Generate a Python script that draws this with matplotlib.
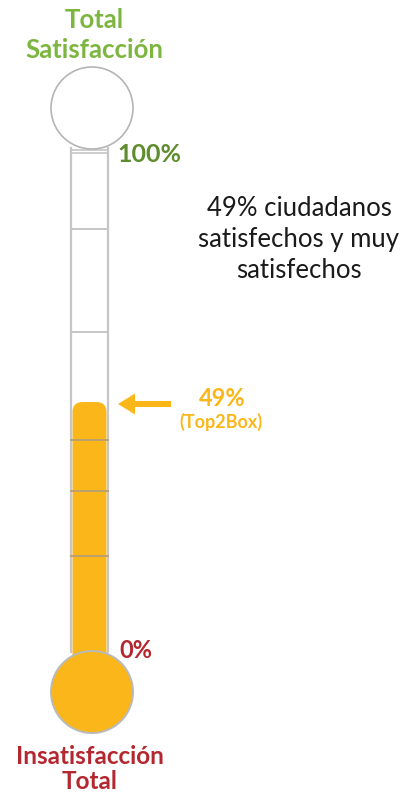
import matplotlib.pyplot as plt
from matplotlib.patches import Circle, FancyBboxPatch, FancyArrow

plt.rcParams['font.family'] = ['Lato', 'DejaVu Sans']

# datos
valor = 49                      # % Top2Box
divisiones = [19, 32, 42, 63.5, 84]
titulo_sup = 'Total\nSatisfacción'
titulo_inf = 'Insatisfacción\nTotal'
nota = '49% ciudadanos\nsatisfechos y muy\nsatisfechos'

verde = '#7db63f'
verde_osc = '#5e8c2f'
rojo = '#b3272f'
amarillo = '#fbb719'
gris = '#c6c6c6'

W, H = 404, 793
fig = plt.figure(figsize=(W / 100, H / 100), dpi=100)
ax = fig.add_axes([0, 0, 1, 1])
ax.set_xlim(0, W)
ax.set_ylim(H, 0)
ax.axis('off')

# tubo del termometro (pixeles)
x0, x1 = 71, 108
y_top, y_bot = 148, 652


def y_pct(p):
    return y_bot - p / 100 * (y_bot - y_top)


# relleno
yv = y_pct(valor) - 3
ax.add_patch(FancyBboxPatch((x0 + 1.5, yv), x1 - x0 - 3, y_bot + 15 - yv,
                            boxstyle='round,pad=0,rounding_size=10',
                            fc=amarillo, ec='none', zorder=2))

# paredes del tubo
ax.plot([x0, x0], [y_top, y_bot], color=gris, lw=1.6, zorder=3)
ax.plot([x1, x1], [y_top, y_bot], color=gris, lw=1.6, zorder=3)
ax.plot([x0, x1], [y_top + 2, y_top + 2], color=gris, lw=1.2, zorder=3)
ax.plot([x0, x1], [y_top + 5, y_top + 5], color=gris, lw=1.2, zorder=3)

for d in divisiones:
    yd = y_pct(d)
    col = '#b9a172' if d < valor else gris
    ax.plot([x0, x1], [yd, yd], color=col, lw=1.4, zorder=3)

# bulbos
ax.add_patch(Circle((92, 108), 41, fc='white', ec='#b5b5b5', lw=1.2, zorder=4))
ax.add_patch(Circle((92, 692), 41, fc=amarillo, ec='#b9b9b9', lw=1.4, zorder=4))

# textos
ax.text(94, 35, titulo_sup, color=verde, fontsize=18.5, fontweight='bold',
        ha='center', va='center', linespacing=1.3)
ax.text(90, 769, titulo_inf, color=rojo, fontsize=17.5, fontweight='bold',
        ha='center', va='center', linespacing=1.15)
ax.text(117, 155, '100%', color=verde_osc, fontsize=18, fontweight='bold',
        ha='left', va='center')
ax.text(119, 650, '0%', color=rojo, fontsize=17, fontweight='bold',
        ha='left', va='center')
ax.text(299, 239, nota, color='#1a1a1a', fontsize=18.5, ha='center',
        va='center', linespacing=1.3)

# flecha y etiqueta
ax.add_patch(FancyArrow(171, 404, -53, 0, width=6, head_width=21,
                        head_length=17, length_includes_head=True,
                        fc=amarillo, ec='none', zorder=5))
ax.text(222, 398, f'{valor}%', color=amarillo, fontsize=17, fontweight='bold',
        ha='center', va='center')
ax.text(221, 422, '(Top2Box)', color=amarillo, fontsize=13, fontweight='bold',
        ha='center', va='center')

fig.savefig('out.png', dpi=100, facecolor='white')
